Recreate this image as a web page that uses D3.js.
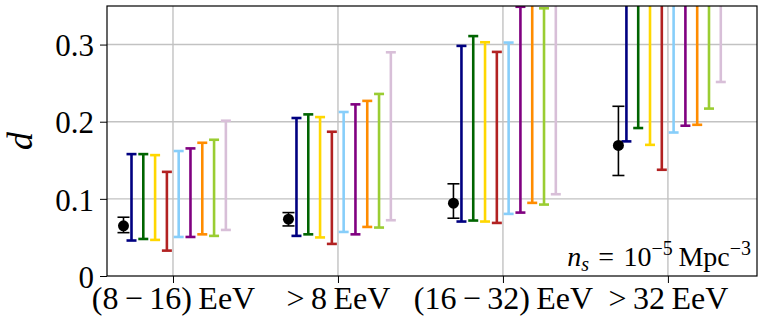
<!DOCTYPE html>
<html>
<head>
<meta charset="utf-8">
<script src="https://cdn.jsdelivr.net/npm/d3@7"></script>
<style>
  body { margin: 0; background: #fff; }
  svg { display: block; }
</style>
</head>
<body>
<svg id="chart" width="759" height="320"></svg>
<script>
// Energy bins on the x axis
const categories = ["(8\u2009\u2212\u200916)\u2009EeV", ">\u20098\u2009EeV", "(16\u2009\u2212\u200932)\u2009EeV", ">\u200932\u2009EeV"];

// Y axis ticks
const yTicks = [0, 0.1, 0.2, 0.3];
const yTickLabels = ["0", "0.1", "0.2", "0.3"];

// Measured dipole amplitude (black points with error bars)
const measuredValue = [0.065, 0.0736, 0.0944, 0.1693];
const measuredLow   = [0.0562, 0.0649, 0.0749, 0.1303];
const measuredHigh  = [0.0762, 0.0822, 0.1195, 0.220];

// Model ranges, one series per colour (low / high ends per energy bin)
const seriesColors = ["#000080", "#006400", "#FFD700", "#B22222", "#87CEFA", "#800080", "#FF8C00", "#9ACD32", "#D8BFD8"];
const navyLow        = [0.046, 0.052, 0.0706, 0.1745];
const navyHigh       = [0.158, 0.2048, 0.2983, 0.52];
const greenLow       = [0.048, 0.054, 0.0719, 0.1918];
const greenHigh      = [0.158, 0.2095, 0.311, 0.55];
const goldLow        = [0.0468, 0.050, 0.0706, 0.170];
const goldHigh       = [0.1567, 0.206, 0.303, 0.53];
const redLow         = [0.0329, 0.0416, 0.0688, 0.1377];
const redHigh        = [0.135, 0.187, 0.2905, 0.50];
const skyLow         = [0.0506, 0.0571, 0.0805, 0.186];
const skyHigh        = [0.162, 0.2126, 0.3026, 0.54];
const purpleLow      = [0.0506, 0.054, 0.0822, 0.1948];
const purpleHigh     = [0.1654, 0.2225, 0.349, 0.56];
const orangeLow      = [0.054, 0.0636, 0.0948, 0.196];
const orangeHigh     = [0.1727, 0.227, 0.37, 0.57];
const yellowGreenLow = [0.052, 0.0628, 0.0926, 0.217];
const yellowGreenHigh= [0.1766, 0.236, 0.347, 0.58];
const thistleLow     = [0.0597, 0.0723, 0.106, 0.2515];
const thistleHigh    = [0.2013, 0.29, 0.39, 0.62];

const seriesLow  = [navyLow, greenLow, goldLow, redLow, skyLow, purpleLow, orangeLow, yellowGreenLow, thistleLow];
const seriesHigh = [navyHigh, greenHigh, goldHigh, redHigh, skyHigh, purpleHigh, orangeHigh, yellowGreenHigh, thistleHigh];

const FONT = "'Liberation Serif', 'Times New Roman', serif";

const W = 759, H = 320;
const margin = { left: 107, top: 6, right: 2, bottom: 44 };
const svg = d3.select("#chart");

const x = d3.scaleLinear().domain([-0.4, 3.54]).range([margin.left, W - margin.right]);
const y = d3.scaleLinear().domain([0, 0.35]).range([H - margin.bottom, margin.top]);

// horizontal offsets within each energy bin
const measuredOffset = -0.30;
const seriesStart = -0.2515;
const seriesStep = 0.0715;

svg.append("defs").append("clipPath").attr("id", "plot-clip")
  .append("rect")
  .attr("x", margin.left).attr("y", margin.top)
  .attr("width", W - margin.left - margin.right)
  .attr("height", H - margin.top - margin.bottom);

// grid
const grid = svg.append("g").attr("stroke", "#c2c2c2").attr("stroke-width", 1.4);
grid.selectAll("line.h").data(yTicks.filter(d => d > 0)).join("line")
  .attr("x1", margin.left).attr("x2", W - margin.right)
  .attr("y1", d => y(d)).attr("y2", d => y(d));
grid.selectAll("line.v").data(categories.map((c, i) => i)).join("line")
  .attr("x1", d => x(d)).attr("x2", d => x(d))
  .attr("y1", margin.top).attr("y2", H - margin.bottom);

const plot = svg.append("g").attr("clip-path", "url(#plot-clip)");

// model ranges
const capHalf = 5;
seriesColors.forEach((color, j) => {
  const g = plot.append("g").attr("stroke", color).attr("stroke-width", 2.6).attr("fill", "none");
  categories.forEach((c, i) => {
    const cx = x(i + seriesStart + j * seriesStep);
    const lo = y(seriesLow[j][i]), hi = y(seriesHigh[j][i]);
    g.append("line").attr("x1", cx).attr("x2", cx).attr("y1", lo).attr("y2", hi);
    g.append("line").attr("x1", cx - capHalf).attr("x2", cx + capHalf).attr("y1", lo).attr("y2", lo);
    g.append("line").attr("x1", cx - capHalf).attr("x2", cx + capHalf).attr("y1", hi).attr("y2", hi);
  });
});

// measured points
const mg = plot.append("g").attr("stroke", "#000").attr("stroke-width", 1.6);
categories.forEach((c, i) => {
  const cx = x(i + measuredOffset);
  const lo = y(measuredLow[i]), hi = y(measuredHigh[i]);
  mg.append("line").attr("x1", cx).attr("x2", cx).attr("y1", lo).attr("y2", hi);
  mg.append("line").attr("x1", cx - 6).attr("x2", cx + 6).attr("y1", lo).attr("y2", lo);
  mg.append("line").attr("x1", cx - 6).attr("x2", cx + 6).attr("y1", hi).attr("y2", hi);
  mg.append("circle").attr("cx", cx).attr("cy", y(measuredValue[i])).attr("r", 5.5)
    .attr("fill", "#000").attr("stroke", "none");
});

// axes
const yAxis = svg.append("g").attr("transform", `translate(${margin.left},0)`)
  .call(d3.axisLeft(y).tickValues(yTicks).tickSize(7).tickPadding(6)
    .tickFormat((d, i) => yTickLabels[i]));
yAxis.attr("font-family", FONT);
yAxis.select(".domain").remove();
yAxis.selectAll("line").attr("stroke", "#000").attr("stroke-width", 1);
yAxis.selectAll("text").attr("font-size", 31).attr("dy", "0.36em");

const xAxis = svg.append("g").attr("transform", `translate(0,${H - margin.bottom})`)
  .call(d3.axisBottom(x).tickValues(categories.map((c, i) => i)).tickSize(7).tickPadding(3)
    .tickFormat((d, i) => categories[i]));
xAxis.attr("font-family", FONT);
xAxis.select(".domain").remove();
xAxis.selectAll("line").attr("stroke", "#000").attr("stroke-width", 1);
xAxis.selectAll("text").attr("font-size", 32).attr("dy", "0.71em");

// frame
svg.append("rect")
  .attr("x", margin.left).attr("y", margin.top)
  .attr("width", W - margin.left - margin.right)
  .attr("height", H - margin.top - margin.bottom)
  .attr("fill", "none").attr("stroke", "#000").attr("stroke-width", 1.2);

// y label
svg.append("text")
  .attr("transform", "translate(32,141) rotate(-90)")
  .attr("text-anchor", "middle")
  .attr("font-family", FONT)
  .attr("font-size", 36).attr("font-style", "italic")
  .text("d");

// density annotation
const ann = svg.append("text")
  .attr("x", 751).attr("y", 266)
  .attr("font-family", FONT)
  .attr("text-anchor", "end").attr("font-size", 28);
ann.append("tspan").attr("font-style", "italic").text("n");
ann.append("tspan").attr("font-style", "italic").attr("font-size", 20).attr("dy", 5).text("s");
ann.append("tspan").attr("dy", -5).text("\u2004=\u200410");
ann.append("tspan").attr("font-size", 20).attr("dy", -11).text("\u22125");
ann.append("tspan").attr("dy", 11).text("\u2009Mpc");
ann.append("tspan").attr("font-size", 20).attr("dy", -11).text("\u22123");
</script>
</body>
</html>
